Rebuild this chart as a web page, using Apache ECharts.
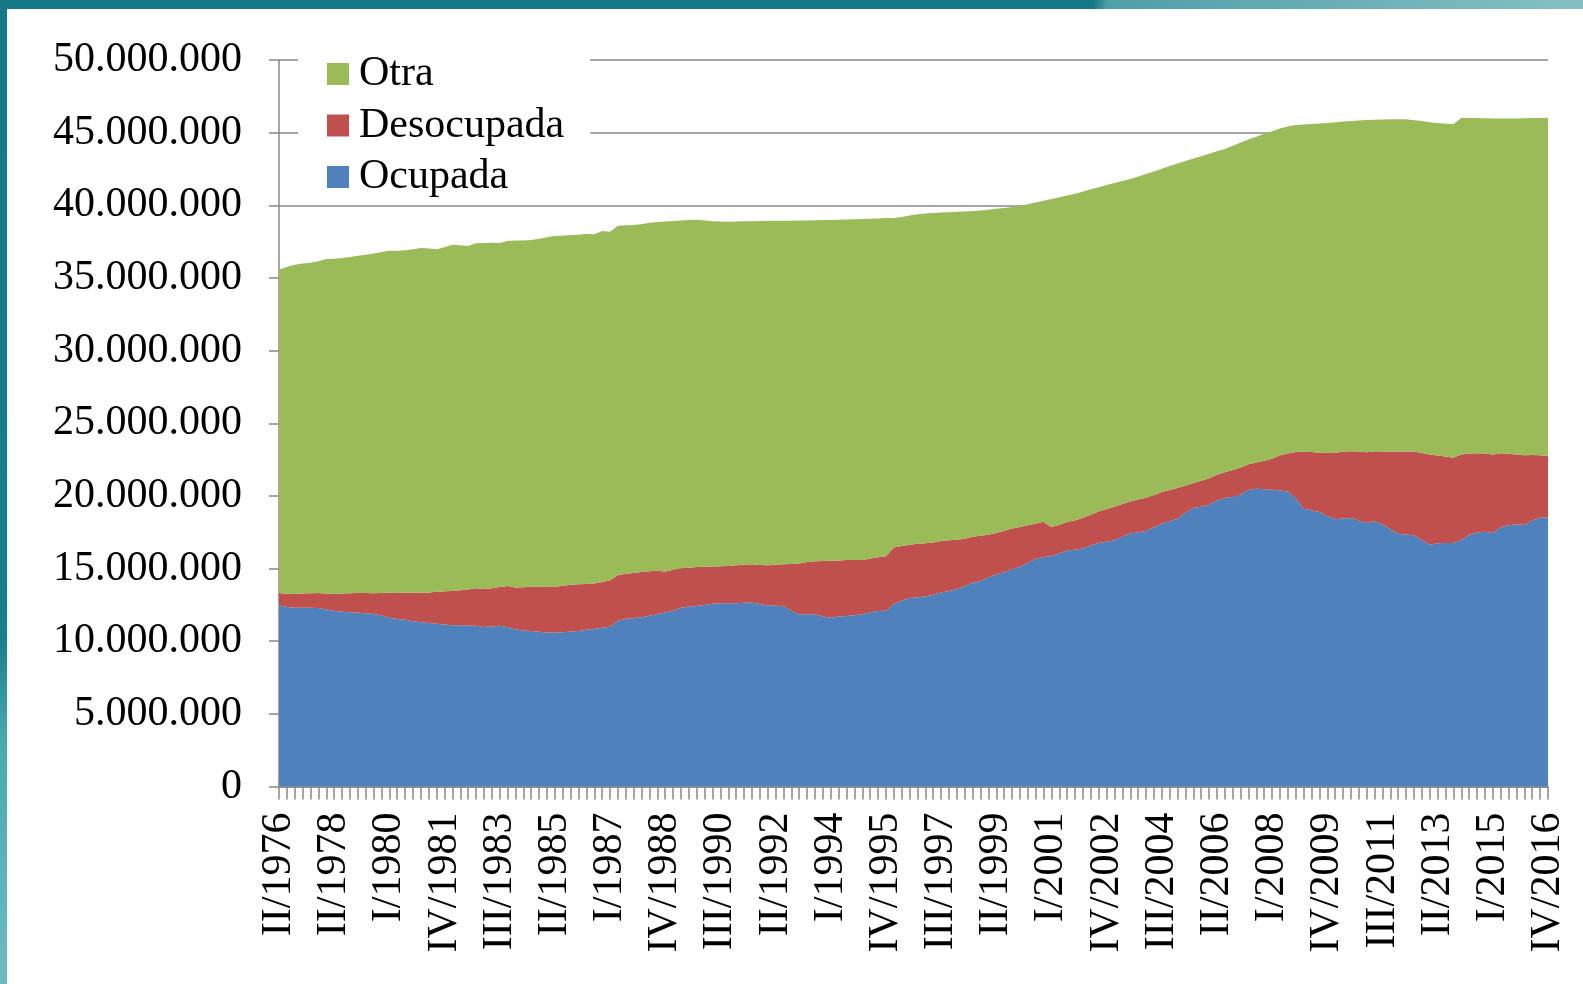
<!DOCTYPE html>
<html>
<head>
<meta charset="utf-8">
<title>Población por situación laboral</title>
<script src="https://cdn.jsdelivr.net/npm/echarts@6/dist/echarts.min.js"></script>
<style>
  html, body { margin: 0; padding: 0; background: #fff; }
  .frame-top {
    position: absolute; left: 0; top: 0; width: 1583px; height: 9px;
    background: linear-gradient(100deg, #147887 0%, #147887 69%, #4f9fa8 70%, #86c0c6 100%);
  }
  .frame-left {
    position: absolute; left: 0; top: 0; width: 7px; height: 984px;
    background: linear-gradient(180deg, #147887 0%, #1a7f8d 65%, #4aa7b0 75%, #6bbcc2 100%);
  }
  #chart { position: absolute; left: 0; top: 0; width: 1583px; height: 984px; }
</style>
</head>
<body>
<div class="frame-top"></div>
<div class="frame-left"></div>
<div id="chart"></div>

<script>
// trimestres: II/1976 ... IV/2016 (162 puntos, miles de personas)
var quarters = ['I', 'II', 'III', 'IV']
var categories = ['II/1976', 'IV/1976']
for (var y = 1977; y <= 2016; y++) {
  quarters.forEach(function (q) { categories.push(q + '/' + y) })
}

var ocupada = [
  12470, 12360, 12310, 12300, 12300, 12280, 12180, 12080, 12030, 12000,
  11950, 11920, 11880, 11780, 11620, 11530, 11480, 11380, 11300, 11250,
  11200, 11150, 11100, 11100, 11080, 11070, 10980, 11020, 11070, 10980,
  10800, 10740, 10700, 10650, 10600, 10580, 10620, 10660, 10700, 10780,
  10840, 10920, 11000, 11400, 11550, 11580, 11650, 11750, 11880, 11980,
  12100, 12300, 12380, 12420, 12500, 12580, 12610, 12620, 12620, 12650,
  12660, 12550, 12470, 12450, 12400, 12100, 11860, 11860, 11850, 11700,
  11620, 11700, 11740, 11780, 11850, 12000, 12080, 12100, 12550, 12800,
  12970, 13020, 13080, 13200, 13350, 13450, 13600, 13800, 14020, 14150,
  14380, 14600, 14750, 14950, 15110, 15400, 15650, 15800, 15850, 16050,
  16250, 16300, 16380, 16600, 16760, 16850, 16940, 17200, 17420, 17500,
  17580, 17850, 18090, 18250, 18430, 18850, 19160, 19250, 19390, 19700,
  19850, 19950, 20100, 20420, 20500, 20450, 20420, 20380, 20300, 19850,
  19120, 19000, 18890, 18620, 18400, 18450, 18480, 18300, 18130, 18270,
  18040, 17700, 17400, 17350, 17300, 16950, 16640, 16740, 16760, 16760,
  16950, 17330, 17480, 17540, 17440, 17850, 17980, 18050, 18000, 18300,
  18500, 18510
]

var desocupada = [
  850, 900, 940, 980, 1000, 1040, 1100, 1170, 1250, 1300,
  1370, 1400, 1420, 1540, 1710, 1790, 1850, 1960, 2040, 2110,
  2200, 2290, 2360, 2400, 2480, 2570, 2620, 2630, 2660, 2820,
  2900, 2980, 3050, 3090, 3130, 3170, 3200, 3220, 3220, 3160,
  3130, 3160, 3190, 3150, 3100, 3120, 3110, 3070, 2970, 2820,
  2820, 2720, 2670, 2680, 2620, 2560, 2550, 2560, 2600, 2610,
  2630, 2700, 2750, 2810, 2890, 3220, 3480, 3590, 3650, 3820,
  3910, 3860, 3850, 3810, 3740, 3700, 3700, 3740, 3900, 3750,
  3670, 3680, 3660, 3600, 3550, 3500, 3380, 3250, 3160, 3100,
  2950, 2850, 2850, 2800, 2750, 2580, 2450, 2420, 2010, 1970,
  1950, 2020, 2120, 2100, 2170, 2250, 2310, 2250, 2200, 2250,
  2290, 2200, 2170, 2150, 2120, 1870, 1720, 1800, 1830, 1750,
  1770, 1830, 1850, 1760, 1800, 1970, 2130, 2420, 2620, 3170,
  3940, 4020, 4080, 4330, 4550, 4600, 4600, 4750, 4880, 4810,
  5020, 5360, 5660, 5710, 5760, 6000, 6210, 6040, 5960, 5870,
  5900, 5590, 5460, 5380, 5410, 5090, 4920, 4800, 4800, 4520,
  4300, 4230
]

var otra = [
  22250, 22490, 22650, 22720, 22750, 22830, 23020, 23080, 23100, 23150,
  23200, 23280, 23380, 23460, 23550, 23560, 23570, 23640, 23720, 23660,
  23570, 23680, 23830, 23750, 23640, 23740, 23800, 23770, 23670, 23750,
  23880, 23850, 23870, 23960, 24070, 24140, 24080, 24070, 24060, 24110,
  24030, 24150, 23990, 24050, 23970, 23940, 23940, 23980, 24000, 24080,
  24000, 23930, 23930, 23910, 23830, 23760, 23720, 23690, 23660, 23640,
  23620, 23670, 23710, 23670, 23650, 23620, 23610, 23510, 23470, 23460,
  23460, 23440, 23430, 23450, 23470, 23380, 23320, 23280, 22680, 22650,
  22660, 22680, 22700, 22670, 22600, 22580, 22570, 22520, 22420, 22400,
  22370, 22310, 22220, 22130, 22110, 22100, 22100, 22100, 22580, 22540,
  22480, 22480, 22450, 22400, 22320, 22300, 22280, 22220, 22190, 22230,
  22280, 22280, 22260, 22300, 22330, 22330, 22340, 22330, 22330, 22270,
  22260, 22320, 22380, 22340, 22420, 22500, 22550, 22480, 22510, 22500,
  22500, 22580, 22660, 22720, 22770, 22710, 22720, 22790, 22860, 22810,
  22840, 22860, 22870, 22860, 22800, 22850, 22870, 22880, 22900, 22960,
  23150, 23080, 23060, 23070, 23130, 23040, 23080, 23130, 23190, 23180,
  23210, 23290
]

var seriesNames = ['Ocupada', 'Desocupada', 'Otra']
var seriesColors = ['#4F81BD', '#C0504D', '#9BBB59']
var yTicks = { min: 0, max: 50000000, step: 5000000 }

var font = 'Liberation Serif, Times New Roman, serif'
var axisGrey = '#888888'

function miles(v) {
  // separador de miles con punto
  return String(v).replace(/\B(?=(\d{3})+(?!\d))/g, '.')
}

function areaSeries(name, values, color) {
  return {
    name: name,
    type: 'line',
    stack: 'total',
    symbol: 'none',
    showSymbol: false,
    lineStyle: { width: 0 },
    itemStyle: { color: color },
    areaStyle: { color: color, opacity: 1 },
    data: values.map(function (v) { return v * 1000 })
  }
}

var chart = echarts.init(document.getElementById('chart'), null, { renderer: 'canvas' })

var option = {
  animation: false,
  backgroundColor: 'transparent',
  grid: {
    left: 279,
    right: 35,
    top: 60,
    bottom: 197.5
  },
  legend: {
    orient: 'vertical',
    left: 298,
    top: 43,
    padding: [10, 26, 3, 29],
    backgroundColor: '#ffffff',
    itemGap: 9.5,
    itemWidth: 22,
    itemHeight: 22,
    icon: 'rect',
    data: ['Otra', 'Desocupada', 'Ocupada'],
    textStyle: {
      fontFamily: font,
      fontSize: 42,
      lineHeight: 42,
      color: '#000',
      padding: [0, 0, 0, 5]
    }
  },
  xAxis: {
    type: 'category',
    boundaryGap: false,
    data: categories,
    axisLine: { lineStyle: { color: axisGrey, width: 1.5 } },
    axisTick: { show: true, interval: 0, length: 13, lineStyle: { color: axisGrey, width: 1.5 } },
    axisLabel: {
      interval: 6,
      rotate: 90,
      margin: 26,
      fontFamily: font,
      fontSize: 42,
      color: '#000'
    },
    splitLine: { show: false }
  },
  yAxis: {
    type: 'value',
    min: yTicks.min,
    max: yTicks.max,
    interval: yTicks.step,
    axisLine: { show: true, lineStyle: { color: axisGrey, width: 1.5 } },
    axisTick: { show: true, length: 10, lineStyle: { color: axisGrey, width: 1.5 } },
    axisLabel: {
      margin: 37,
      fontFamily: font,
      fontSize: 42,
      color: '#000',
      formatter: miles
    },
    splitLine: { show: true, lineStyle: { color: axisGrey, width: 1.5 } }
  },
  series: [
    areaSeries(seriesNames[0], ocupada, seriesColors[0]),
    areaSeries(seriesNames[1], desocupada, seriesColors[1]),
    areaSeries(seriesNames[2], otra, seriesColors[2])
  ]
}

chart.setOption(option)
</script>
</body>
</html>
